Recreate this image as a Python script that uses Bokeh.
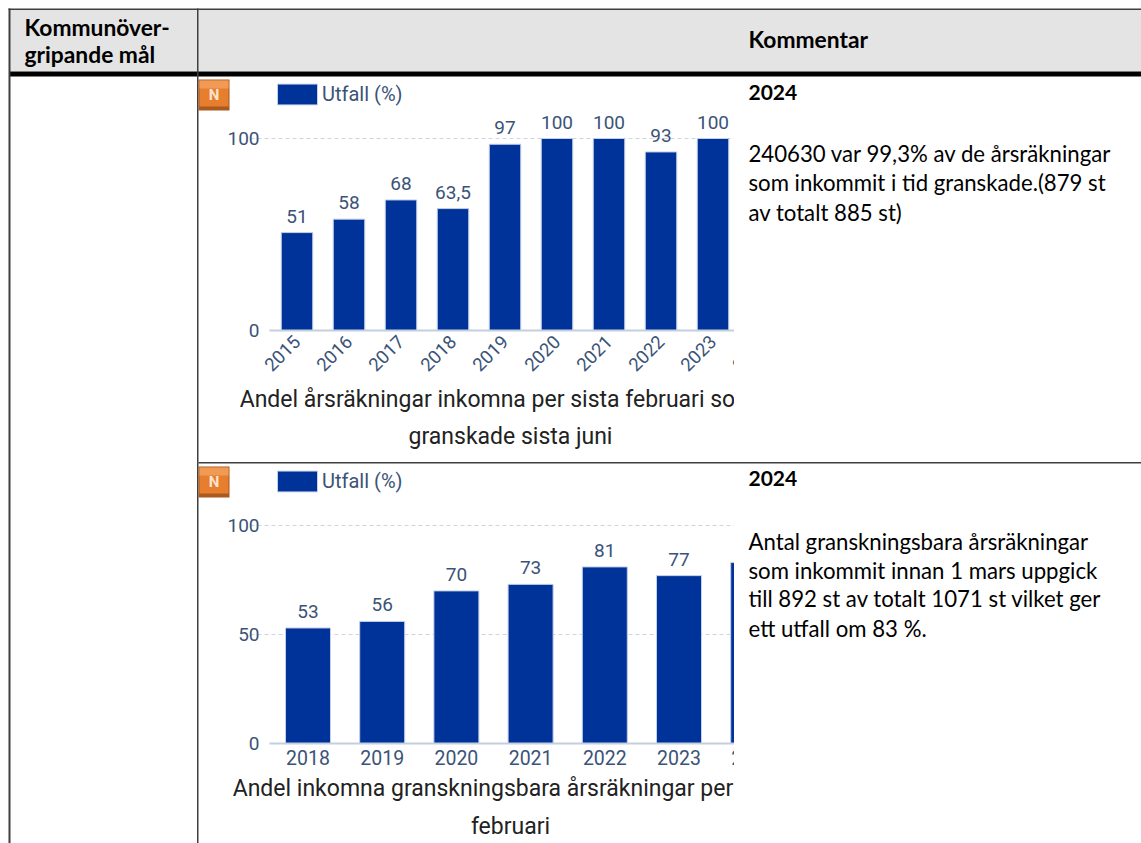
from bokeh.embed import file_html
from bokeh.resources import INLINE
from bokeh.plotting import figure
from bokeh.layouts import column
from bokeh.models import Range1d, FixedTicker, Legend, LegendItem, Title, NumeralTickFormatter, ColumnDataSource
from bokeh.core.properties import value

# ---- data ----
years_a = [2015, 2016, 2017, 2018, 2019, 2020, 2021, 2022, 2023]
vals_a = [51, 58, 68, 63.5, 97, 100, 100, 93, 100]
labels_a = ["51", "58", "68", "63,5", "97", "100", "100", "93", "100"]
ticks_xa = [2015, 2016, 2017, 2018, 2019, 2020, 2021, 2022, 2023, 2024]
ticks_ya = [0, 100]
title_a = ["Andel årsräkningar inkomna per sista februari som är", "granskade sista juni"]

years_b = [2018, 2019, 2020, 2021, 2022, 2023, 2024]
vals_b = [53, 56, 70, 73, 81, 77, 83]
labels_b = ["53", "56", "70", "73", "81", "77", ""]
ticks_xb = [2018, 2019, 2020, 2021, 2022, 2023, 2024]
ticks_yb = [0, 50, 100]
title_b = ["Andel inkomna granskningsbara årsräkningar per sista", "februari"]

series_name = "Utfall (%)"
header_left = ["Kommunöver-", "gripande mål"]
header_right = "Kommentar"
comment_a = ["2024", "240630 var 99,3% av de årsräkningar", "som inkommit i tid granskade.(879 st", "av totalt 885 st)"]
comment_b = ["2024", "Antal granskningsbara årsräkningar", "som inkommit innan 1 mars uppgick", "till 892 st av totalt 1071 st vilket ger", "ett utfall om 83 %."]

BAR = "#003399"
EDGE = "#c3cfe6"
TICK = "#3b5378"
GRID = "#cfd6e2"
W, H = 1141, 843

# ---- page chrome ----
bg = figure(width=W, height=H, x_range=Range1d(0, W), y_range=Range1d(H, 0), toolbar_location=None,
            output_backend="svg", min_border=0, outline_line_color=None, border_fill_color=None, frame_align=False)
bg.axis.visible = False
bg.grid.visible = False
bg.styles = {"position": "absolute", "left": "0px", "top": "0px"}

bg.quad(left=[9], right=[W], top=[9], bottom=[71], fill_color="#e4e4e4", line_color=None)
bg.quad(left=[9], right=[W], top=[71], bottom=[76], fill_color="#000000", line_color=None)
bg.quad(left=[8, 196.5], right=[10, 198], top=[8, 8], bottom=[H, H], fill_color="#3f3f3f", line_color=None)
bg.quad(left=[8], right=[W], top=[8], bottom=[9.5], fill_color="#3f3f3f", line_color=None)
bg.quad(left=[198], right=[W], top=[461.5], bottom=[463], fill_color="#3f3f3f", line_color=None)

for top in (79, 466):
    bg.quad(left=[198], right=[229], top=[top], bottom=[top + 31], fill_color="#a85a20", line_color=None)
    bg.quad(left=[199], right=[228], top=[top + 1], bottom=[top + 27], fill_color="#e67e2e", line_color=None)
    bg.quad(left=[199], right=[228], top=[top + 1], bottom=[top + 9], fill_color="#f09a55", line_color=None)
    bg.text(x=[213.5], y=[top + 15], text=["N"], text_color="#fde3cc", text_align="center", text_baseline="middle",
            text_font=value("Roboto"), text_font_style="bold", text_font_size="15px")

def put(xs, ys, texts, size, bold=False):
    bg.text(x=xs, y=ys, text=texts, text_color="#000000", text_align="left", text_baseline="middle",
            text_font=value("Lato"), text_font_size=size, text_font_style="bold" if bold else "normal")

put([24, 24], [26, 53.5], header_left, "22.8px", True)
put([748], [38.5], [header_right], "22.8px", True)
put([748], [91.5], comment_a[:1], "21px", True)
put([748] * 3, [152.5, 181.5, 211.5], comment_a[1:], "22.2px")
put([748], [477.5], comment_b[:1], "21px", True)
put([748] * 4, [540.5, 569.5, 597.5, 627.5], comment_b[1:], "22.2px")

# ---- charts ----
FRAME_L, FRAME_R = 250, 770
FIG_L = 190
CLIP_R = 734

def chart(years, vals, labels, ticks_x, ticks_y, title, c0, step, bar_w, fig_t, fig_b,
          y0, y100, legend_top, orient, standoff, tick_standoff, tick_size, axis_x0=269, grid_x0=277):
    frame_t = fig_t + 3
    px = (y0 - y100) / 100.0
    ymax = (y0 - frame_t) / px
    x_at = lambda p_: years[0] + (p_ - c0) / step
    fig_w = FRAME_R - FIG_L + 10
    fig = figure(width=fig_w, height=fig_b - fig_t,
                 frame_width=FRAME_R - FRAME_L, frame_height=y0 - frame_t,
                 x_range=Range1d(x_at(FRAME_L), x_at(FRAME_R)), y_range=Range1d(0, ymax),
                 toolbar_location=None, output_backend="svg", outline_line_color=None, frame_align=False,
                 min_border_left=FRAME_L - FIG_L, min_border_right=10, min_border_top=3, min_border_bottom=0,
                 background_fill_color=None, border_fill_color=None)
    src = ColumnDataSource(dict(x=years, top=vals, label=labels))
    r = fig.vbar(x="x", top="top", width=bar_w / step, bottom=0, source=src,
                 fill_color=BAR, line_color=EDGE, line_width=1)
    fig.text(x="x", y="top", text="label", source=src, text_align="center", text_baseline="bottom", y_offset=-10,
             text_color=TICK, text_font=value("Roboto"), text_font_size="19px")

    fig.xgrid.visible = False
    fig.ygrid.ticker = FixedTicker(ticks=ticks_y)
    fig.ygrid.grid_line_color = GRID
    fig.ygrid.grid_line_dash = "4 3"
    fig.ygrid.bounds = (x_at(grid_x0), x_at(FRAME_R))

    xa = fig.xaxis[0]
    xa.ticker = FixedTicker(ticks=ticks_x)
    xa.formatter = NumeralTickFormatter(format="0")
    xa.axis_line_color = "#c3cfdf"
    xa.axis_line_width = 2
    xa.bounds = (x_at(axis_x0), x_at(FRAME_R))
    xa.major_tick_line_color = None
    xa.minor_tick_line_color = None
    xa.major_label_text_color = TICK
    xa.major_label_text_font = "Roboto"
    xa.major_label_text_font_size = tick_size
    xa.major_label_standoff = tick_standoff
    if orient:
        xa.major_label_orientation = orient

    ya = fig.yaxis[0]
    ya.ticker = FixedTicker(ticks=ticks_y)
    ya.axis_line_color = None
    ya.major_tick_line_color = None
    ya.minor_tick_line_color = None
    ya.major_label_text_color = TICK
    ya.major_label_text_font = "Roboto"
    ya.major_label_text_font_size = "19px"
    ya.major_label_standoff = -15

    for i, line in enumerate(title):
        fig.add_layout(Title(text=line, align="center", text_font="Roboto", text_font_size="23px",
                             text_font_style="normal", text_color="#222222", standoff=standoff[i]), "below")

    leg = Legend(items=[LegendItem(label=series_name, renderers=[r])],
                 location=(272 - FRAME_L, y0 - legend_top - 24),
                 background_fill_alpha=0, border_line_color=None, padding=0, margin=0,
                 glyph_width=50, glyph_height=26, label_standoff=0,
                 label_text_font="Roboto", label_text_font_size="20px", label_text_color=TICK)
    fig.add_layout(leg, "center")

    fig.styles = {"position": "absolute", "left": f"{FIG_L}px", "top": f"{fig_t}px",
                  "clip-path": f"inset(0px {fig_w - (CLIP_R - FIG_L)}px 0px 0px)"}
    return fig

c1 = chart(years_a, vals_a, labels_a, ticks_xa, ticks_ya, title_a, 296.5, 52.0, 31.5, 76, 461, 330, 138, 83, 0.785, (7, 8), 2, "18.5px")
c2 = chart(years_b, vals_b, labels_b, ticks_xb, ticks_yb, title_b, 307.5, 74.2, 45, 464, 843, 743, 525, 470, None, (10, 8), 0, "19.5px")

root = column(bg, c1, c2, width=W, height=H, margin=(0, 0, 0, 0))
root.styles = {"position": "relative", "overflow": "hidden"}

open("out.html", "w").write(file_html(root, INLINE))
